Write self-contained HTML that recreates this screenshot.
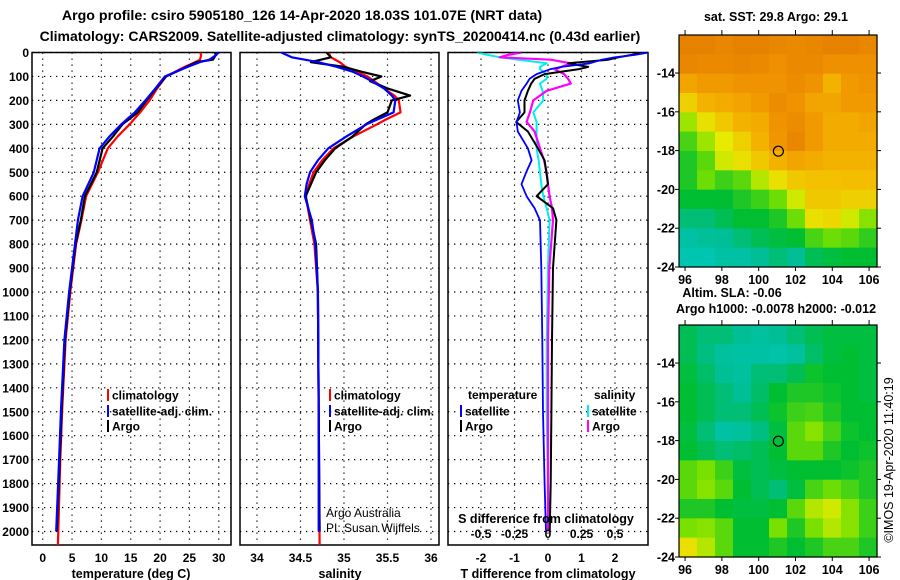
<!DOCTYPE html>
<html><head><meta charset="utf-8"><style>
body{margin:0;background:#fff;}
svg{display:block;font-family:"Liberation Sans",sans-serif;font-weight:bold;}
</style></head><body>
<svg id="c" width="900" height="580" viewBox="0 0 900 580">
<text x="302" y="20" text-anchor="middle" font-size="14.2">Argo profile: csiro 5905180_126 14-Apr-2020 18.03S 101.07E (NRT data)</text>
<text x="340" y="41" text-anchor="middle" font-size="14">Climatology: CARS2009. Satellite-adjusted climatology: synTS_20200414.nc (0.43d earlier)</text>
<g id="g"></g>
</svg>
<script>
// ---- data ----
const depthTicks=[0,100,200,300,400,500,600,700,800,900,1000,1100,1200,1300,1400,1500,1600,1700,1800,1900,2000];
const tDepth=[0,10,30,40,60,100,150,200,250,300,350,400,500,600,700,800,1000,1200,1500,1700,2000];
const tArgo=[29.3,29.5,29.0,26.2,24.5,21.0,19.3,17.7,16.2,13.6,12.0,10.2,9.2,7.2,6.5,5.6,4.6,3.8,3.2,2.9,2.4];
const tClim=[26.8,27.0,26.8,26.0,24.2,21.0,19.5,18.2,16.6,14.8,12.8,11.1,9.4,7.4,6.6,5.7,4.7,3.9,3.3,3.0,2.6];
const tSat=[29.9,29.6,28.4,26.8,24.7,20.8,19.2,17.5,15.7,13.4,11.4,9.7,8.7,6.8,6.0,5.5,4.5,3.7,3.1,2.8,2.3];
const sDepth=[0,20,40,60,80,100,120,150,180,200,250,280,300,350,400,450,500,550,600,700,800,1000,1500,2000];
const sArgo=[34.80,34.85,34.62,35.00,35.20,35.43,35.30,35.50,35.76,35.55,35.50,35.34,35.25,35.10,34.90,34.78,34.68,34.62,34.56,34.62,34.68,34.70,34.71,34.72];
const sClim=[34.82,34.85,34.95,35.02,35.15,35.27,35.35,35.46,35.58,35.63,35.65,35.48,35.38,35.11,34.88,34.75,34.65,34.60,34.56,34.61,34.66,34.70,34.71,34.72];
const sSat=[34.28,34.40,34.70,34.92,35.10,35.22,35.32,35.46,35.55,35.59,35.57,35.38,35.26,35.03,34.82,34.70,34.61,34.57,34.55,34.63,34.67,34.70,34.71,34.71];
const dDepth=[0,10,20,30,45,60,70,90,110,130,160,200,250,290,330,400,450,500,550,600,650,700,900,1200,1500,1800,2000];
const dtArgo=[2.8,2.5,2.1,1.8,0.6,1.2,0.9,-0.1,-0.4,-0.5,-0.6,-0.7,-0.7,-0.95,-0.6,-0.3,-0.1,-0.05,0.0,-0.34,0.15,0.25,0.15,0.12,0.1,0.08,0.05];
const dtSat=[3.0,2.6,2.0,1.6,1.25,0.4,0.06,-0.34,-0.55,-0.64,-0.79,-0.9,-0.84,-0.94,-0.9,-0.6,-0.49,-0.65,-0.79,-0.64,-0.4,-0.24,-0.2,-0.17,-0.15,-0.1,-0.06];
const dsSat=[-0.53,-0.45,-0.36,-0.22,-0.01,-0.06,-0.06,-0.01,-0.01,-0.06,-0.04,-0.035,-0.11,-0.085,-0.085,-0.085,-0.07,-0.06,-0.05,-0.035,-0.01,0.012,0.0,-0.01,-0.01,0.0,0.01];
const dsArgo=[-0.2,-0.3,-0.36,0.02,0.17,0.1,0.05,0.12,0.15,0.17,-0.01,-0.11,-0.135,-0.16,-0.1,-0.06,-0.03,-0.01,0.0,0.012,0.03,0.037,0.01,0.0,0.0,0.0,0.0];
const tTicks=[0,5,10,15,20,25,30];
const sTicks=[34,34.5,35,35.5,36];
const sTickLabels=["34","34.5","35","35.5","36"];
const dTicks=[-2,-1,0,1,2];
const dsTicks=[-0.5,-0.25,0,0.25,0.5];
const dsTickLabels=["-0.5","-0.25","0","0.25","0.5"];
const lonTicks=[96,98,100,102,104,106];
const latTicks=[-14,-16,-18,-20,-22,-24];
const sstGrid=[
[0.95,0.95,0.93,0.95,0.95,0.93,0.92,0.93,0.95,0.95,0.93],
[0.93,0.92,0.92,0.93,0.92,0.90,0.92,0.92,0.90,0.90,0.90],
[0.84,0.87,0.87,0.89,0.89,0.89,0.91,0.89,0.80,0.87,0.89],
[0.72,0.80,0.82,0.84,0.87,0.91,0.89,0.84,0.84,0.87,0.87],
[0.55,0.68,0.74,0.80,0.82,0.89,0.91,0.87,0.82,0.82,0.84],
[0.42,0.55,0.65,0.72,0.80,0.88,0.93,0.87,0.82,0.82,0.82],
[0.35,0.45,0.62,0.68,0.74,0.80,0.84,0.82,0.80,0.80,0.80],
[0.35,0.48,0.40,0.45,0.58,0.68,0.74,0.76,0.76,0.77,0.77],
[0.30,0.30,0.30,0.35,0.40,0.48,0.62,0.74,0.74,0.72,0.72],
[0.20,0.20,0.25,0.30,0.30,0.35,0.48,0.68,0.70,0.62,0.52],
[0.10,0.14,0.15,0.20,0.25,0.28,0.30,0.42,0.48,0.45,0.38],
[0.05,0.05,0.10,0.10,0.15,0.20,0.15,0.25,0.28,0.30,0.30]];
const slaGrid=[
[0.25,0.20,0.20,0.15,0.12,0.15,0.20,0.25,0.28,0.28,0.28],
[0.25,0.18,0.12,0.10,0.10,0.08,0.12,0.22,0.28,0.30,0.28],
[0.28,0.22,0.15,0.12,0.20,0.20,0.25,0.32,0.30,0.30,0.28],
[0.30,0.25,0.20,0.15,0.22,0.30,0.35,0.35,0.32,0.30,0.28],
[0.30,0.25,0.20,0.20,0.25,0.32,0.40,0.42,0.35,0.30,0.30],
[0.28,0.20,0.10,0.12,0.18,0.28,0.45,0.52,0.42,0.32,0.30],
[0.30,0.25,0.20,0.22,0.25,0.30,0.45,0.45,0.35,0.30,0.32],
[0.45,0.50,0.40,0.28,0.25,0.28,0.30,0.30,0.30,0.32,0.35],
[0.45,0.52,0.45,0.30,0.25,0.20,0.28,0.42,0.48,0.42,0.35],
[0.35,0.35,0.30,0.28,0.28,0.30,0.45,0.58,0.62,0.52,0.40],
[0.50,0.52,0.45,0.30,0.30,0.50,0.35,0.50,0.58,0.52,0.40],
[0.68,0.58,0.45,0.30,0.30,0.35,0.30,0.35,0.42,0.42,0.35]];

// ---- drawing ----
const NS="http://www.w3.org/2000/svg";
const G=document.getElementById('g');
function mk(tag,attrs,parent){const e=document.createElementNS(NS,tag);for(const k in attrs)e.setAttribute(k,attrs[k]);(parent||G).appendChild(e);return e;}
function txt(x,y,s,size,anchor,parent){const e=mk('text',{x:x,y:y,'font-size':size||12,'text-anchor':anchor||'middle'},parent);e.textContent=s;return e;}
const PT=52.5,PB=545,DMAX=(PB-PT)/0.2395;
const yD=d=>PT+d*0.2395;
const panels=[
 {x0:32,x1:231,vmin:-1.82,vmax:32.08,name:'temperature-panel'},
 {x0:240,x1:439,vmin:33.805,vmax:36.092,name:'salinity-panel'},
 {x0:448,x1:648,vmin:-2.985,vmax:2.985,name:'difference-panel'}];
panels.forEach(p=>{p.sx=v=>p.x0+(v-p.vmin)/(p.vmax-p.vmin)*(p.x1-p.x0);});
function grid(p,ticks){
 const g=mk('g',{});
 
 
 depthTicks.forEach(d=>{mk('line',{x1:p.x0,x2:p.x1,y1:yD(d),y2:yD(d),stroke:'#000','stroke-width':1.2,'stroke-dasharray':'1.3 4.7'},g);});
 ticks.forEach(t=>{mk('line',{x1:p.sx(t),x2:p.sx(t),y1:PT,y2:PB,stroke:'#000','stroke-width':1.2,'stroke-dasharray':'1.3 4.7'},g);});
 const r=mk('rect',{x:p.x0,y:PT,width:p.x1-p.x0,height:PB-PT,fill:'none',stroke:'#000','stroke-width':1.5});
 
 
}
grid(panels[0],tTicks);grid(panels[1],sTicks);grid(panels[2],dTicks);
const defs=mk('defs',{});
panels.forEach((p,i)=>{const cp=mk('clipPath',{id:'cp'+i},defs);mk('rect',{x:p.x0,y:PT,width:p.x1-p.x0,height:PB-PT},cp);});
const P0=panels[0],P1=panels[1],P2=panels[2];
function clipG(i){return mk('g',{'clip-path':'url(#cp'+i+')'});}
function lineG(g,p,xs,ds,color,name,w,scale){
 const pts=xs.map((v,i)=>p.sx(v*(scale||1)).toFixed(1)+','+yD(ds[i]).toFixed(1)).join(' ');
 const l=mk('polyline',{points:pts,fill:'none',stroke:color,'stroke-width':w||2.2,'stroke-linejoin':'round'},g);
 
 
}
let cg=clipG(0);
lineG(cg,P0,tClim,tDepth.map((d,i)=>i==tDepth.length-1?DMAX:d),'#f00','temp-climatology-line');
lineG(cg,P0,tArgo,tDepth,'#000','temp-argo-line');
lineG(cg,P0,tSat,tDepth,'#00f','temp-satellite-line');
cg=clipG(1);
lineG(cg,P1,sClim,sDepth.map((d,i)=>i==sDepth.length-1?DMAX:d),'#f00','sal-climatology-line');
lineG(cg,P1,sArgo,sDepth,'#000','sal-argo-line');
lineG(cg,P1,sSat,sDepth,'#00f','sal-satellite-line');
cg=clipG(2);
lineG(cg,P2,dsSat,dDepth,'#0ee','sal-diff-satellite-line',2,4);
lineG(cg,P2,dsArgo,dDepth,'#f0f','sal-diff-argo-line',2.2,4);
lineG(cg,P2,dtArgo,dDepth,'#000','temp-diff-argo-line',2);
lineG(cg,P2,dtSat,dDepth,'#00f','temp-diff-satellite-line',1.8);
depthTicks.forEach(d=>{const t=txt(29,yD(d)+4.5,String(d),12,'end');});
tTicks.forEach(v=>{const t=txt(P0.sx(v),562,String(v),12);});
sTicks.forEach((v,i)=>{const t=txt(P1.sx(v),562,sTickLabels[i],12);});
dTicks.forEach(v=>{const t=txt(P2.sx(v),562,String(v),12);});
dsTicks.forEach((v,i)=>{const t=txt(P2.sx(v*4),538,dsTickLabels[i],12);});
[[131,578,'temperature (deg C)','temp-axis-title'],[340,578,'salinity','sal-axis-title'],[548,578,'T difference from climatology','tdiff-axis-title'],[546,523,'S difference from climatology','sdiff-axis-title']].forEach(a=>{const t=txt(a[0],a[1],a[2],12.5);});
function leg(x,y,color,label,name){
 const r=mk('rect',{x:x,y:y-6,width:2,height:12,fill:color});
 
 const t=txt(x+5,y+4.5,label,12,'start');
}
leg(107,395,'#f00','climatology','legend-temp-climatology');
leg(107,411,'#00f','satellite-adj. clim.','legend-temp-satellite');
leg(107,426,'#000','Argo','legend-temp-argo');
leg(329,395,'#f00','climatology','legend-sal-climatology');
leg(329,411,'#00f','satellite-adj. clim.','legend-sal-satellite');
leg(329,426,'#000','Argo','legend-sal-argo');
let tt=txt(468,399,'temperature',12,'start');
tt=txt(594,399,'salinity',12,'start');
leg(460,411,'#00f','satellite','legend-tdiff-satellite');
leg(460,426,'#000','Argo','legend-tdiff-argo');
leg(587,411,'#0ee','satellite','legend-sdiff-satellite');
leg(587,426,'#f0f','Argo','legend-sdiff-argo');
tt=txt(326,517,'Argo Australia',12,'start');tt.setAttribute('font-weight','normal');
tt=txt(326,532,'PI: Susan Wijffels',12,'start');tt.setAttribute('font-weight','normal');
const stops=[[0,[0,200,190]],[0.15,[0,190,150]],[0.3,[0,190,50]],[0.5,[120,225,0]],[0.65,[230,235,0]],[0.78,[245,185,0]],[0.88,[240,150,0]],[1,[225,115,0]]];
function cmap(v){for(let i=1;i<stops.length;i++){if(v<=stops[i][0]){const a=stops[i-1],b=stops[i],f=(v-a[0])/(b[0]-a[0]);return 'rgb('+a[1].map((c,k)=>Math.round(c+(b[1][k]-c)*f)).join(',')+')';}}return 'rgb(225,115,0)';}
function map(y0,gridv,name){
 const x0=679,x1=877,y1=y0+232;
 const lonMin=95.67,lonMax=106.43,latTop=-12.04,latBot=-24;
 const sx=l=>x0+(l-lonMin)/(lonMax-lonMin)*(x1-x0);
 const sy=l=>y0+(latTop-l)/(latTop-latBot)*(y1-y0);
 const g=mk('g',{});
 const cw=(x1-x0)/gridv[0].length,ch=(y1-y0)/gridv.length;
 gridv.forEach((row,r)=>row.forEach((v,c)=>{const cell=mk('rect',{x:x0+c*cw,y:y0+r*ch,width:cw+0.6,height:ch+0.6,fill:cmap(v)},g);
  }));
 mk('rect',{x:x0,y:y0,width:x1-x0,height:y1-y0,fill:'none',stroke:'#000','stroke-width':1.2},g);
 lonTicks.forEach(l=>{mk('line',{x1:sx(l),x2:sx(l),y1:y0-5,y2:y0,stroke:'#000'},g);mk('line',{x1:sx(l),x2:sx(l),y1:y1,y2:y1+4,stroke:'#000'},g);
  const t=txt(sx(l),y1+17,String(l),12.5,'middle',g);});
 latTicks.forEach(l=>{mk('line',{x1:x0-4,x2:x0,y1:sy(l),y2:sy(l),stroke:'#000'},g);mk('line',{x1:x1,x2:x1+4,y1:sy(l),y2:sy(l),stroke:'#000'},g);
  const t=txt(675,sy(l)+4.5,String(l),12.5,'end',g);});
 const m=mk('circle',{cx:sx(101.07),cy:sy(-18.03),r:5,fill:'none',stroke:'#000','stroke-width':1.2},g);
 
}
map(35,sstGrid,'sst-map');
map(325,slaGrid,'sla-map');
tt=txt(776,21,'sat. SST: 29.8 Argo: 29.1',12.5);
tt=txt(732,297,'Altim. SLA: -0.06',12.5);
tt=txt(776,313,'Argo h1000: -0.0078 h2000: -0.012',12.5);
tt=txt(0,0,'©IMOS 19-Apr-2020 11:40:19',12.5);tt.setAttribute('font-weight','normal');tt.setAttribute('transform','translate(893,460) rotate(-90)');
</script>
</body></html>
